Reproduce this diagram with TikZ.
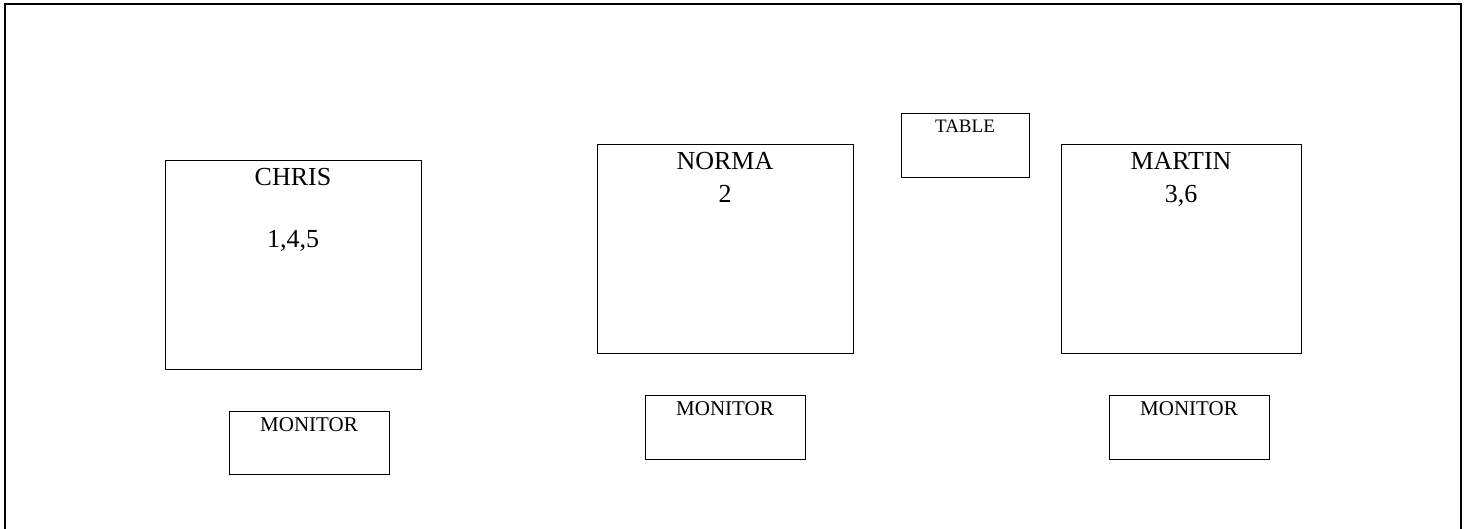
\documentclass[tikz,border=0pt]{standalone}
\usepackage{fontspec}
\setmainfont{Liberation Serif}

\tikzset{
    desk/.style={draw, line width=1pt, minimum width=256pt, minimum height=208pt, inner sep=0pt},
    monitorbox/.style={draw, line width=1pt, minimum width=160pt, minimum height=64pt, inner sep=0pt},
    bigname/.style={anchor=base, inner sep=0pt, font=\fontsize{26}{30}\selectfont},
    smallname/.style={anchor=base, inner sep=0pt, font=\fontsize{21}{24}\selectfont}
}

\begin{document}
\begin{tikzpicture}[x=1pt, y=-1pt]
        \useasboundingbox (0,0) rectangle (1470,529);

        % Room outline (open at the bottom)
        \draw [line width=1.5pt] (5,545) -- (5,4) -- (1461,4) -- (1461,545);

        % Chris desk and monitor
        \node [desk] (chris) at (293,265) {};
        \node [bigname] (chrisname) at (293,185.7) {CHRIS};
        \node [bigname] (chrisjobs) at (293,247.7) {1,4,5};
        \node [monitorbox, minimum height=63pt] (chrismon) at (309,443.3) {};
        \node [smallname] (chrismontext) at (309,431.7) {MONITOR};

        % Norma desk and monitor
        \node [desk] (norma) at (725,249) {};
        \node [bigname] (normaname) at (725,169.3) {NORMA};
        \node [bigname] (normajobs) at (725,202.7) {2};
        \node [monitorbox] (normamon) at (725,427) {};
        \node [smallname] (normamontext) at (725,415) {MONITOR};

        % Table
        \node [draw, line width=1pt, minimum width=128pt, minimum height=64pt, inner sep=0pt] (table) at (965,146) {};
        \node [anchor=base, inner sep=0pt, font=\fontsize{19}{22}\selectfont] (tabletext) at (965,132.3) {TABLE};

        % Martin desk and monitor
        \node [desk, minimum width=240pt] (martin) at (1181,249) {};
        \node [bigname] (martinname) at (1181,169.3) {MARTIN};
        \node [bigname] (martinjobs) at (1181,202.7) {3,6};
        \node [monitorbox] (martinmon) at (1189,427) {};
        \node [smallname] (martinmontext) at (1189,415) {MONITOR};
\end{tikzpicture}
\end{document}
